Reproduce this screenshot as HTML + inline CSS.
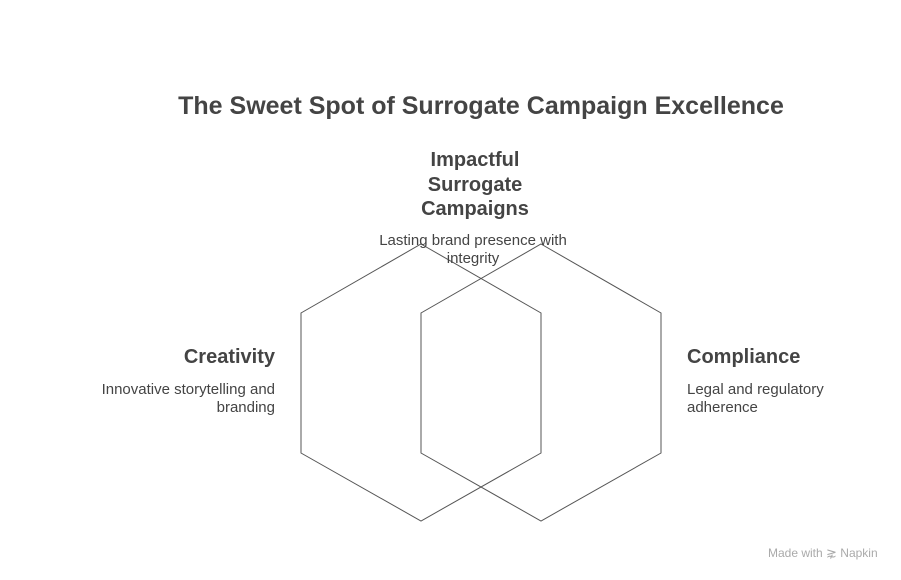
<!DOCTYPE html>
<html><head><meta charset="utf-8"><style>
html,body{margin:0;padding:0;background:#fff;}
body{width:901px;height:580px;position:relative;overflow:hidden;font-family:"Liberation Sans",Arial,sans-serif;color:#444;}
.t{position:absolute;white-space:nowrap;}
</style></head><body>
<svg width="901" height="580" style="position:absolute;left:0;top:0">
<polygon points="421,244 541,313 541,453 421,521 301,453 301,313" fill="none" stroke="#555" stroke-width="1"/>
<polygon points="541,244 661,313 661,453 541,521 421,453 421,313" fill="none" stroke="#555" stroke-width="1"/>
</svg>
<div class="t" style="left:0;width:962px;text-align:center;top:92px;font-size:25px;font-weight:bold;">The Sweet Spot of Surrogate Campaign Excellence</div>
<div class="t" style="left:375px;width:200px;text-align:center;top:148px;font-size:20px;font-weight:bold;line-height:24.5px;">Impactful<br>Surrogate<br>Campaigns</div>
<div class="t" style="left:360px;width:226px;text-align:center;top:232px;font-size:15px;line-height:18px;">Lasting brand presence with<br>integrity</div>
<div class="t" style="right:626px;text-align:right;top:346px;font-size:20px;font-weight:bold;">Creativity</div>
<div class="t" style="right:626px;text-align:right;top:381px;font-size:15px;line-height:18px;">Innovative storytelling and<br>branding</div>
<div class="t" style="left:687px;top:346px;font-size:20px;font-weight:bold;">Compliance</div>
<div class="t" style="left:687px;top:381px;font-size:15px;line-height:18px;">Legal and regulatory<br>adherence</div>
<div class="t" style="left:768px;top:545px;font-size:12px;color:#aaa;">Made with <span style="font-size:13px">⋧</span> Napkin</div>
</body></html>
